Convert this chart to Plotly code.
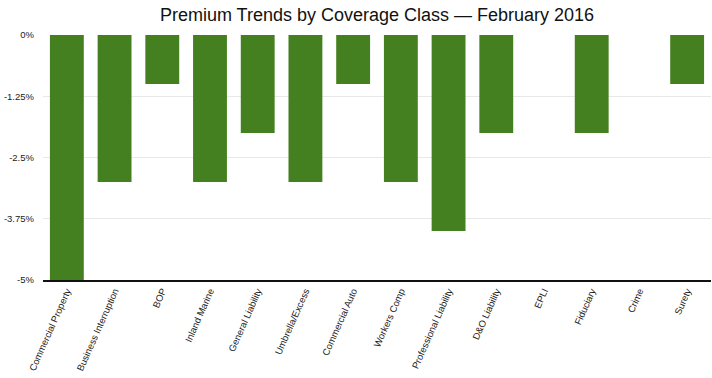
import plotly.graph_objects as go

categories = ["Commercial Property", "Business Interruption", "BOP", "Inland Marine",
              "General Liability", "Umbrella/Excess", "Commercial Auto", "Workers Comp",
              "Professional Liability", "D&O Liability", "EPLI", "Fiduciary", "Crime", "Surety"]
values = [-5, -3, -1, -3, -2, -3, -1, -3, -4, -2, 0, -2, 0, -1]
ytick_vals = [0, -1.25, -2.5, -3.75, -5]
ytick_text = ["0%", "-1.25%", "-2.5%", "-3.75%", "-5%"]

fig = go.Figure(go.Bar(x=categories, y=values, marker_color="#44801f",
                       marker_line_width=0, hoverinfo="x+y"))
fig.update_layout(
    width=712, height=378,
    margin=dict(l=43, r=1, t=35, b=98, autoexpand=False),
    paper_bgcolor="white", plot_bgcolor="white",
    font=dict(family="Liberation Sans, Arial, sans-serif", size=10, color="#222"),
    title=dict(text="Premium Trends by Coverage Class — February 2016",
               x=0.5, xref="paper", xanchor="center", y=0.96, yanchor="middle",
               font=dict(size=18, color="#111")),
    bargap=0.29,
    showlegend=False,
)
fig.update_xaxes(tickangle=-66, showline=True, linecolor="#111", linewidth=1.5,
                 showgrid=False, ticks="", tickfont=dict(size=9.5), automargin=False)
fig.update_yaxes(range=[-5, 0], tickvals=ytick_vals, ticktext=ytick_text,
                 showgrid=True, gridcolor="#e8e8e8", gridwidth=1, zeroline=False,
                 ticks="", tickfont=dict(size=9.5), ticklabelstandoff=8, automargin=False)
fig.write_html("out.html", config={"displayModeBar": False},
               post_script="document.body.style.margin='0';document.body.style.padding='0';")
